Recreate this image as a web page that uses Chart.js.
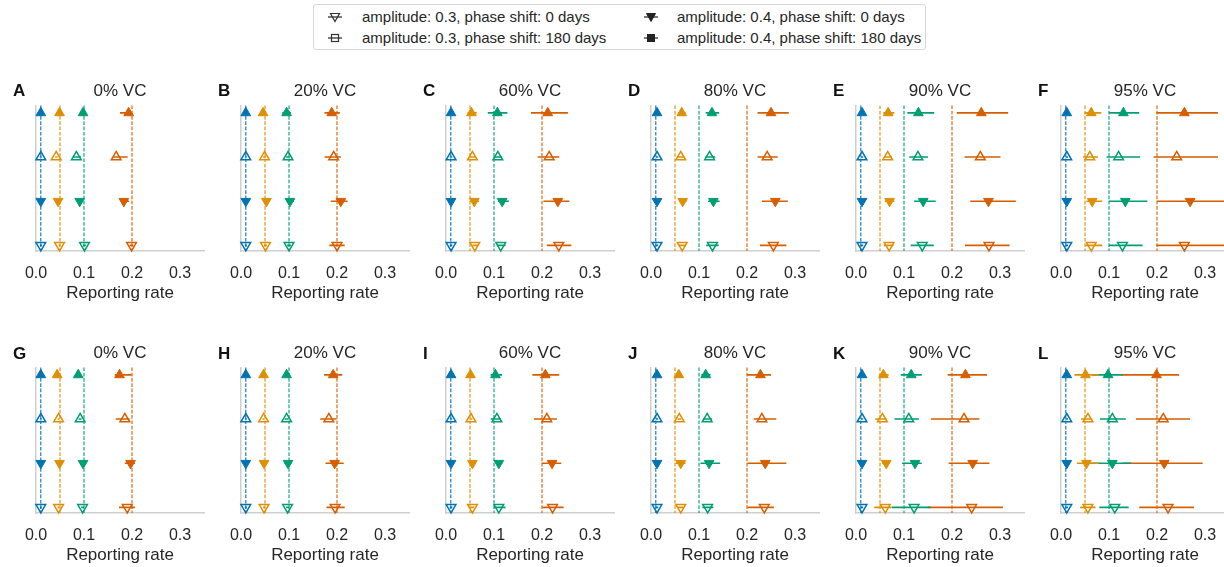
<!DOCTYPE html>
<html><head><meta charset="utf-8">
<script src="https://cdn.jsdelivr.net/npm/chart.js@4.4.0/dist/chart.umd.min.js"></script>
<style>
html,body{margin:0;padding:0;background:#fff;width:1224px;height:567px;overflow:hidden;font-family:Arial,"Liberation Sans",sans-serif;}
canvas{position:absolute;}
.letter{position:absolute;font-weight:bold;font-size:17px;color:#111;line-height:17px;}
#legend{position:absolute;left:313px;top:4px;width:613px;height:46px;border:1px solid #d6d6d6;border-radius:3px;box-sizing:border-box;}
.li{position:absolute;white-space:nowrap;font-size:15px;line-height:16px;height:16px;color:#262626;}
.lm{position:absolute;}
</style></head><body>
<div id="legend">
  <svg class="lm" style="left:11px;top:5px" width="20" height="14"><line x1="3" y1="7" x2="17" y2="7" stroke="#333" stroke-width="1.3"/><polygon points="5.5,3.5 14.5,3.5 10,11.5" fill="none" stroke="#333" stroke-width="1.2"/></svg>
  <div class="li" style="left:48px;top:4px">amplitude: 0.3, phase shift: 0 days</div>
  <svg class="lm" style="left:11px;top:26px" width="20" height="14"><line x1="3" y1="7" x2="17" y2="7" stroke="#333" stroke-width="1.3"/><rect x="6.5" y="3.5" width="7" height="7" fill="none" stroke="#333" stroke-width="1.2"/></svg>
  <div class="li" style="left:48px;top:25px">amplitude: 0.3, phase shift: 180 days</div>
  <svg class="lm" style="left:327px;top:5px" width="20" height="14"><line x1="3" y1="7" x2="17" y2="7" stroke="#333" stroke-width="1.3"/><polygon points="5.5,3.5 14.5,3.5 10,11.5" fill="#222" stroke="#222" stroke-width="1"/></svg>
  <div class="li" style="left:363px;top:4px">amplitude: 0.4, phase shift: 0 days</div>
  <svg class="lm" style="left:327px;top:26px" width="20" height="14"><line x1="3" y1="7" x2="17" y2="7" stroke="#333" stroke-width="1.3"/><rect x="6.5" y="3.5" width="7" height="7" fill="#222" stroke="#222" stroke-width="1"/></svg>
  <div class="li" style="left:363px;top:25px">amplitude: 0.4, phase shift: 180 days</div>
</div>
<script>
// ---------- data ----------
const colors = ['#0173b2', '#de8f05', '#029e73', '#d55e00'];
const trueRates = [0.01, 0.05, 0.1, 0.2];
const xTicks = [0.0, 0.1, 0.2, 0.3];
const rowIndex = [0, 1, 2, 3];               // top to bottom
const rowFilled = [true, false, true, false];
const rowRotation = [0, 0, 180, 180];
const panelLetters = ['A','B','C','D','E','F','G','H','I','J','K','L'];
const panelTitles = ['0% VC','20% VC','60% VC','80% VC','90% VC','95% VC','0% VC','20% VC','60% VC','80% VC','90% VC','95% VC'];

// estimates [row][colour]
const estA = [[0.01,0.049,0.098,0.193],[0.01,0.042,0.084,0.167],[0.01,0.046,0.091,0.183],[0.01,0.049,0.101,0.199]];
const loA  = [[0.008,0.047,0.095,0.175],[0.008,0.040,0.078,0.161],[0.008,0.044,0.088,0.177],[0.008,0.047,0.098,0.195]];
const hiA  = [[0.012,0.051,0.101,0.199],[0.012,0.045,0.094,0.191],[0.012,0.048,0.095,0.194],[0.012,0.051,0.104,0.203]];

const estB = [[0.01,0.046,0.095,0.189],[0.01,0.049,0.098,0.193],[0.01,0.053,0.102,0.208],[0.01,0.051,0.100,0.200]];
const loB  = [[0.008,0.043,0.086,0.174],[0.008,0.046,0.094,0.174],[0.008,0.048,0.095,0.187],[0.008,0.048,0.096,0.184]];
const hiB  = [[0.012,0.049,0.104,0.206],[0.012,0.052,0.102,0.208],[0.012,0.058,0.110,0.222],[0.012,0.054,0.104,0.216]];

const estC = [[0.0105,0.053,0.107,0.212],[0.0105,0.055,0.108,0.215],[0.0105,0.059,0.117,0.233],[0.0105,0.060,0.114,0.235]];
const loC  = [[0.008,0.045,0.087,0.177],[0.008,0.049,0.099,0.191],[0.008,0.051,0.108,0.203],[0.008,0.055,0.106,0.210]];
const hiC  = [[0.013,0.064,0.128,0.254],[0.013,0.062,0.117,0.236],[0.013,0.069,0.131,0.257],[0.013,0.067,0.124,0.261]];

const estD = [[0.0125,0.064,0.127,0.250],[0.0125,0.062,0.122,0.242],[0.0125,0.066,0.130,0.259],[0.0125,0.065,0.128,0.255]];
const loD  = [[0.010,0.057,0.114,0.222],[0.010,0.055,0.113,0.222],[0.010,0.059,0.119,0.231],[0.010,0.057,0.115,0.227]];
const hiD  = [[0.015,0.072,0.142,0.287],[0.015,0.070,0.134,0.264],[0.015,0.074,0.143,0.285],[0.015,0.073,0.141,0.282]];

const estE = [[0.0125,0.067,0.130,0.261],[0.0125,0.066,0.129,0.259],[0.0125,0.070,0.140,0.276],[0.0125,0.069,0.138,0.277]];
const loE  = [[0.010,0.057,0.107,0.210],[0.010,0.058,0.111,0.226],[0.010,0.060,0.121,0.238],[0.010,0.058,0.114,0.227]];
const hiE  = [[0.015,0.080,0.163,0.317],[0.015,0.075,0.150,0.301],[0.015,0.080,0.166,0.333],[0.015,0.078,0.162,0.320]];

const estF = [[0.012,0.063,0.130,0.257],[0.012,0.060,0.120,0.241],[0.012,0.065,0.134,0.269],[0.012,0.063,0.128,0.257]];
const loF  = [[0.0095,0.049,0.100,0.199],[0.0095,0.046,0.095,0.193],[0.0095,0.053,0.100,0.200],[0.0095,0.051,0.100,0.199]];
const hiF  = [[0.0145,0.084,0.163,0.327],[0.0145,0.077,0.165,0.327],[0.0145,0.086,0.180,0.360],[0.0145,0.086,0.170,0.360]];

const estG = [[0.01,0.044,0.088,0.174],[0.01,0.047,0.092,0.185],[0.01,0.049,0.098,0.197],[0.01,0.047,0.097,0.190]];
const loG  = [[0.008,0.042,0.085,0.164],[0.008,0.045,0.089,0.166],[0.008,0.047,0.095,0.185],[0.008,0.045,0.094,0.173]];
const hiG  = [[0.012,0.046,0.091,0.199],[0.012,0.049,0.095,0.195],[0.012,0.051,0.101,0.206],[0.012,0.049,0.100,0.206]];

const estH = [[0.01,0.047,0.095,0.192],[0.01,0.047,0.095,0.183],[0.01,0.048,0.098,0.195],[0.01,0.048,0.097,0.196]];
const loH  = [[0.008,0.045,0.088,0.173],[0.008,0.045,0.091,0.165],[0.008,0.046,0.091,0.176],[0.008,0.046,0.094,0.178]];
const hiH  = [[0.012,0.049,0.102,0.211],[0.012,0.049,0.099,0.199],[0.012,0.050,0.105,0.214],[0.012,0.050,0.100,0.216]];

const estI = [[0.0105,0.051,0.103,0.207],[0.0105,0.052,0.106,0.210],[0.0105,0.055,0.110,0.221],[0.0105,0.055,0.110,0.222]];
const loI  = [[0.008,0.048,0.093,0.180],[0.008,0.049,0.093,0.183],[0.008,0.051,0.104,0.200],[0.008,0.051,0.100,0.201]];
const hiI  = [[0.013,0.054,0.117,0.236],[0.013,0.055,0.114,0.231],[0.013,0.059,0.117,0.240],[0.013,0.059,0.124,0.245]];

const estJ = [[0.0125,0.058,0.114,0.228],[0.0125,0.059,0.117,0.231],[0.0125,0.062,0.121,0.238],[0.0125,0.062,0.118,0.236]];
const loJ  = [[0.010,0.054,0.105,0.200],[0.010,0.055,0.108,0.214],[0.010,0.051,0.103,0.201],[0.010,0.056,0.107,0.201]];
const hiJ  = [[0.015,0.062,0.124,0.250],[0.015,0.063,0.127,0.261],[0.015,0.072,0.144,0.282],[0.015,0.068,0.130,0.256]];

const estK = [[0.0125,0.057,0.115,0.228],[0.0125,0.055,0.110,0.225],[0.0125,0.063,0.123,0.243],[0.0125,0.061,0.121,0.241]];
const loK  = [[0.010,0.049,0.093,0.191],[0.010,0.040,0.080,0.156],[0.010,0.055,0.096,0.193],[0.010,0.038,0.074,0.149]];
const hiK  = [[0.015,0.068,0.137,0.273],[0.015,0.064,0.131,0.257],[0.015,0.070,0.137,0.278],[0.015,0.073,0.155,0.306]];

const estL = [[0.012,0.051,0.098,0.199],[0.012,0.056,0.107,0.213],[0.012,0.053,0.107,0.215],[0.012,0.056,0.112,0.223]];
const loL  = [[0.0095,0.028,0.065,0.125],[0.0095,0.042,0.081,0.156],[0.0095,0.033,0.063,0.128],[0.0095,0.040,0.080,0.163]];
const hiL  = [[0.0145,0.079,0.128,0.246],[0.0145,0.065,0.135,0.269],[0.0145,0.079,0.146,0.295],[0.0145,0.072,0.141,0.277]];

const allEst = [estA,estB,estC,estD,estE,estF,estG,estH,estI,estJ,estK,estL];
const allLo  = [loA,loB,loC,loD,loE,loF,loG,loH,loI,loJ,loK,loL];
const allHi  = [hiA,hiB,hiC,hiD,hiE,hiF,hiG,hiH,hiI,hiJ,hiK,hiL];

// ---------- layout ----------
const colSpine = [36, 241, 446, 651, 856, 1061];
const rowTop = [105, 367.7];
const PLOT_W = 167.6, PAD = 25, CANVAS_H = 229;
const TEXT = '#262626';
const FONT = 'Arial, "Liberation Sans", sans-serif';

function makePlugins(lo, hi) {
  return [{
    id: 'refLines',
    beforeDatasetsDraw(chart) {
      const {ctx, chartArea: a, scales: {x}} = chart;
      ctx.save();
      ctx.lineWidth = 1.1;
      ctx.setLineDash([3.7, 1.6]);
      trueRates.forEach((v, i) => {
        const px = x.getPixelForValue(v);
        ctx.strokeStyle = colors[i];
        ctx.beginPath(); ctx.moveTo(px, a.top); ctx.lineTo(px, a.bottom); ctx.stroke();
      });
      ctx.restore();
    }
  }, {
    id: 'errBars',
    beforeDatasetDraw(chart, args) {
      const i = args.index;
      const {ctx, chartArea: a, scales: {x, y}} = chart;
      ctx.save();
      ctx.beginPath(); ctx.rect(a.left, a.top - 10, a.right - a.left + 40, a.bottom - a.top + 20); ctx.clip();
      ctx.strokeStyle = colors[i];
      ctx.lineWidth = 1.6;
      ctx.lineCap = 'butt';
      rowIndex.forEach(r => {
        const py = y.getPixelForValue(r);
        ctx.beginPath();
        ctx.moveTo(x.getPixelForValue(lo[r][i]), py);
        ctx.lineTo(x.getPixelForValue(hi[r][i]), py);
        ctx.stroke();
      });
      ctx.restore();
    }
  }];
}

panelLetters.forEach((letter, p) => {
  const col = p % 6, row = Math.floor(p / 6);
  const left = colSpine[col] - PAD;
  const top = rowTop[row] - 28.4;
  const cv = document.createElement('canvas');
  cv.width = Math.round(PLOT_W + 2 * PAD); cv.height = CANVAS_H;
  cv.style.left = left + 'px'; cv.style.top = top + 'px';
  cv.style.width = cv.width + 'px'; cv.style.height = cv.height + 'px';
  document.body.appendChild(cv);

  const lab = document.createElement('div');
  lab.className = 'letter';
  lab.textContent = letter;
  lab.style.left = (colSpine[col] - 23) + 'px';
  lab.style.top = (rowTop[row] - 14.3 - 8.5) + 'px';
  document.body.appendChild(lab);

  const est = allEst[p], lo = allLo[p], hi = allHi[p];
  const datasets = colors.map((c, ci) => ({
    data: rowIndex.map(r => ({x: est[r][ci], y: r})),
    pointStyle: 'triangle',
    pointRadius: 5.6,
    pointHoverRadius: 5.6,
    pointRotation: rowRotation,
    pointBackgroundColor: rowFilled.map(f => f ? c : 'rgba(0,0,0,0)'),
    pointBorderColor: c,
    pointBorderWidth: rowFilled.map(f => f ? 1 : 1.5),
    showLine: false,
    clip: false
  }));

  new Chart(cv, {
    type: 'scatter',
    data: {datasets},
    options: {
      responsive: false,
      animation: false,
      devicePixelRatio: 1,
      events: [],
      layout: {padding: {left: PAD, right: PAD, top: 0, bottom: 0}},
      plugins: {
        legend: {display: false},
        tooltip: {enabled: false},
        title: {
          display: true, text: panelTitles[p], color: TEXT,
          font: {family: FONT, size: 17, weight: 'normal', lineHeight: 1.2},
          padding: {top: 4, bottom: 4}
        }
      },
      scales: {
        x: {
          type: 'linear', min: 0, max: 0.35,
          afterBuildTicks: s => { s.ticks = xTicks.map(v => ({value: v})); },
          ticks: {
            color: TEXT, padding: 13, maxRotation: 0, autoSkip: false,
            font: {family: FONT, size: 16, lineHeight: 1.2},
            callback: v => Number(v).toFixed(1)
          },
          grid: {display: false, drawTicks: false},
          border: {display: true, color: '#cfcfcf', width: 1.5},
          title: {
            display: true, text: 'Reporting rate', color: TEXT,
            font: {family: FONT, size: 17, lineHeight: 1.2},
            padding: {top: -13, bottom: 2.3}
          }
        },
        y: {
          type: 'linear', reverse: true, min: -0.17, max: 3.13,
          ticks: {display: false},
          grid: {display: false, drawTicks: false},
          border: {display: true, color: '#cfcfcf', width: 1.5}
        }
      }
    },
    plugins: makePlugins(lo, hi)
  });
});
</script>
</body></html>
